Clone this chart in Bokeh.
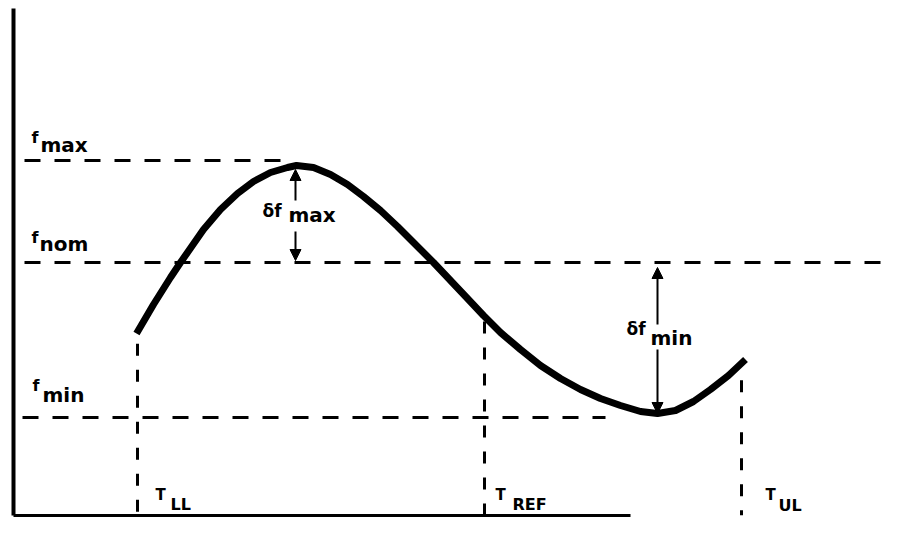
import numpy as np
from bokeh.plotting import figure
from bokeh.models import Range1d, Arrow, NormalHead, ColumnDataSource, FixedTicker
from bokeh.core.properties import value
from bokeh.embed import file_html
from bokeh.resources import INLINE

# ---- data (schematic units: T to the right, f upward) ----
T_curve = [136, 153, 170, 180, 187, 203, 220, 237, 253, 270, 287, 296, 313, 330, 347,
           363, 380, 397, 413, 433, 450, 467, 483, 500, 520, 540, 560, 580, 600, 620,
           640, 657, 675, 693, 710, 728, 745]
f_curve = [200, 229, 256, 271, 281, 304, 324, 340, 352, 361, 366, 368, 366, 359, 349,
           337, 323, 307, 291, 271, 253, 235, 218, 201, 184, 168, 155, 144, 135, 128,
           122, 120, 123, 132, 144, 158, 174]

level_subs = ["max", "nom", "min"]
level_values = [373, 271, 116]          # f_max, f_nom, f_min

temp_subs = ["LL", "REF", "UL"]
temp_values = [137, 484, 741]           # T_LL, T_REF, T_UL

delta_subs = ["max", "min"]

# ---- figure ----
p = figure(width=906, height=517, x_range=Range1d(13, 906), y_range=Range1d(18, 533),
           output_backend="svg", toolbar_location=None,
           min_border_left=13, min_border_right=0, min_border_top=0, min_border_bottom=2)
p.grid.visible = False
p.outline_line_color = None
for ax in (p.xaxis, p.yaxis):
    ax.ticker = FixedTicker(ticks=[])
    ax.major_tick_line_color = None
    ax.minor_tick_line_color = None
    ax.major_tick_out = 0
    ax.major_tick_in = 0
    ax.minor_tick_out = 0
    ax.minor_tick_in = 0
    ax.major_label_text_font_size = "0px"
    ax.major_label_standoff = 0
    ax.axis_line_color = "black"
p.yaxis.axis_line_width = 4
p.xaxis.axis_line_width = 3
p.xaxis.bounds = (13, 630)
p.yaxis.bounds = (18, 525)

T_arr = np.array(T_curve)
f_arr = np.array(f_curve)
T_peak = T_arr[np.argmax(f_arr)]
T_valley = T_arr[np.argmin(f_arr)]
f_max, f_nom, f_min = level_values

# horizontal dashed reference levels
h_src = ColumnDataSource(dict(x0=[24, 24, 22], x1=[T_peak - 6, 880, 605],
                              y=level_values))
p.segment(x0="x0", x1="x1", y0="y", y1="y", source=h_src,
          line_color="black", line_width=3, line_dash="16 14")

# vertical dashed temperature markers
tops = np.interp(temp_values, T_arr, f_arr) - np.array([12, 5, 17])
v_src = ColumnDataSource(dict(x=temp_values, top=list(tops), bot=[18, 18, 18]))
p.segment(x0="x", x1="x", y0="top", y1="bot", source=v_src,
          line_color="black", line_width=3, line_dash="12 14")

# main curve
p.line(T_curve, f_curve, line_color="black", line_width=7, line_cap="butt",
       line_join="round")

# delta arrows
def arrow(x, y0, y1):
    p.add_layout(Arrow(end=NormalHead(size=11, fill_color="black", line_color="black"),
                       x_start=x, y_start=y0, x_end=x, y_end=y1,
                       line_color="black", line_width=2))

arrow(T_peak - 1, f_max - 40, f_max - 9)
arrow(T_peak - 1, f_nom + 31, f_nom + 2)
arrow(T_valley, f_nom - 62, f_nom - 5)
arrow(T_valley, f_min + 68, f_min + 4)

FONT = value("DejaVu Sans")

def txt(xs, ys, texts, size):
    p.text(x=xs, y=ys, text=texts, text_font=FONT, text_font_style="bold",
           text_font_size=size, text_color="black",
           text_align="left", text_baseline="alphabetic")

# f labels
txt([31, 31, 32], [f_max + 23, f_nom + 25, f_min + 32], ["f", "f", "f"], "16px")
txt([40, 39, 42], [f_max + 16, f_nom + 19, f_min + 23], level_subs, "20px")

# delta labels
txt([T_peak - 34, T_valley - 31], [f_max - 50, f_nom - 66], ["δf", "δf"], "17px")
txt([T_peak - 8, T_valley - 7], [f_max - 54, f_nom - 75], delta_subs, "20px")

# T labels
txt([temp_values[0] + 18, temp_values[1] + 11, temp_values[2] + 24], [39, 39, 39],
    ["T", "T", "T"], "15px")
txt([temp_values[0] + 33, temp_values[1] + 28, temp_values[2] + 37], [29, 29, 28],
    temp_subs, "16px")

open("out.html", "w").write(file_html(p, INLINE))
